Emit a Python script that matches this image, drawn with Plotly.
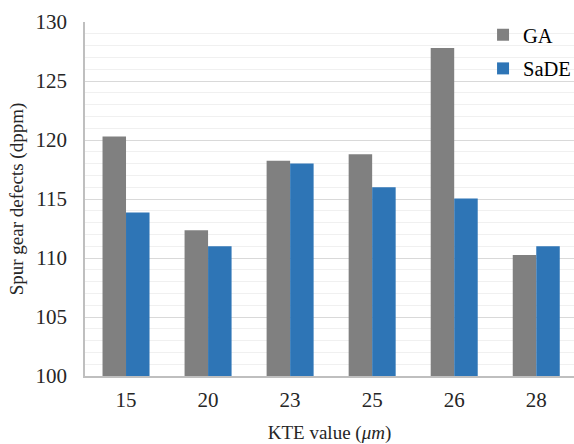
import plotly.graph_objects as go

categories = ["15", "20", "23", "25", "26", "28"]
ga_values = [120.3, 112.35, 118.25, 118.8, 127.8, 110.25]
sade_values = [113.85, 111.0, 118.0, 116.0, 115.05, 111.0]
y_ticks = [100, 105, 110, 115, 120, 125, 130]

FONT = "Liberation Serif, Times New Roman, serif"

fig = go.Figure()
fig.add_trace(go.Bar(name="GA", x=categories, y=ga_values, legendgroup="ga",
                     marker=dict(color="#808080", line=dict(width=0))))
fig.add_trace(go.Bar(name="SaDE", x=categories, y=sade_values, legendgroup="sade",
                     marker=dict(color="#2e75b6", line=dict(width=0))))

fig.update_layout(
    width=574, height=444,
    margin=dict(l=85, r=0, t=22, b=68, autoexpand=False),
    barmode="group", bargap=0.427, bargroupgap=0,
    plot_bgcolor="white", paper_bgcolor="white",
    font=dict(family=FONT, size=21, color="#262626"),
    legend=dict(x=0.814, y=1.02, xanchor="left", yanchor="top", bgcolor="rgba(0,0,0,0)",
                font=dict(family=FONT, size=20.5, color="#000000"), itemwidth=30, tracegroupgap=4),
    showlegend=True,
)
fig.update_xaxes(
    type="category", range=[-0.5, 5.46], automargin=False,
    showline=True, linecolor="#bfbfbf", linewidth=1.5,
    showgrid=False, ticks="", ticklabelstandoff=4,
    tickfont=dict(family=FONT, size=21, color="#262626"),
    title=dict(text="KTE value (<i>μm</i>)", font=dict(family=FONT, size=19, color="#262626"), standoff=16),
)
fig.update_yaxes(
    range=[100, 130], tickvals=y_ticks, automargin=False,
    showline=True, linecolor="#bfbfbf", linewidth=1.5,
    showgrid=True, gridcolor="#d9d9d9", gridwidth=1.2,
    minor=dict(dtick=1, showgrid=True, gridcolor="#f0f0f0", gridwidth=1.2),
    zeroline=False, ticks="", ticklabelstandoff=12,
    tickfont=dict(family=FONT, size=21, color="#262626"),
    title=dict(text="Spur gear defects (dppm)", font=dict(family=FONT, size=19, color="#262626"), standoff=7),
)

fig.write_html("out.html", config={"displayModeBar": False},
               post_script="document.body.style.margin='0';document.body.style.overflow='hidden';")
